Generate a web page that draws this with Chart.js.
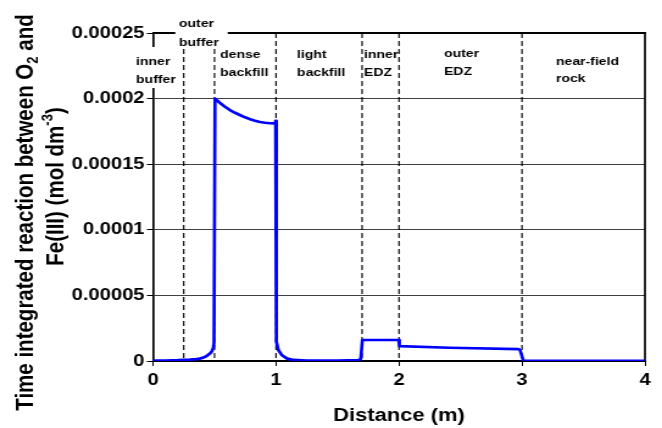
<!DOCTYPE html>
<html>
<head>
<meta charset="utf-8">
<script src="https://cdn.jsdelivr.net/npm/chart.js@4.4.1/dist/chart.umd.min.js"></script>
<style>
html, body { margin: 0; padding: 0; background: #fff; overflow: hidden; }
#wrap { width: 543px; height: 428px; transform: scaleX(1.2192); transform-origin: 0 0; }
canvas { display: block; }
</style>
</head>
<body>
<div id="wrap"><canvas id="c" width="543" height="428"></canvas></div>
<script>
// ---- data ----
const distance = [0, 0.1, 0.2, 0.25, 0.3, 0.35, 0.38, 0.41, 0.436, 0.46, 0.477, 0.49, 0.496,
  0.504, 0.54, 0.585, 0.625, 0.667, 0.71, 0.748, 0.79, 0.829, 0.87, 0.911, 0.95, 0.993, 0.997,
  1.003, 1.019, 1.046, 1.087, 1.14, 1.25, 1.5, 1.67, 1.689, 1.702, 1.85, 1.998,
  2.003, 2.41, 2.97, 2.984, 3.011, 3.5, 4.0];
const reaction = [3e-7, 4e-7, 6e-7, 8e-7, 1.0e-6, 1.4e-6, 1.8e-6, 2.6e-6, 3.8e-6, 5.5e-6, 7.1e-6, 1.0e-5, 1.4e-5,
  2.0e-4, 1.97e-4, 1.938e-4, 1.913e-4, 1.892e-4, 1.873e-4, 1.857e-4, 1.843e-4, 1.831e-4, 1.822e-4, 1.816e-4, 1.812e-4, 1.811e-4, 1.83e-4,
  1.47e-5, 8.4e-6, 4.6e-6, 2.0e-6, 8e-7, 3e-7, 3e-7, 7e-7, 1.5e-6, 1.6e-5, 1.6e-5, 1.6e-5,
  1.14e-5, 1.01e-5, 9.1e-6, 8.4e-6, 2.5e-7, 2e-7, 2e-7];
const yTickValues = [0, 0.00005, 0.0001, 0.00015, 0.0002, 0.00025];
const yTickLabels = ['0', '0.00005', '0.0001', '0.00015', '0.0002', '0.00025'];
const xTickValues = [0, 1, 2, 3, 4];
const xTickLabels = ['0', '1', '2', '3', '4'];
const boundaries = [0.25, 0.5, 1, 1.7, 2, 3];
const regionNames = [['inner', 'buffer'], ['outer', 'buffer'], ['dense', 'backfill'], ['light', 'backfill'],
  ['inner', 'EDZ'], ['outer', 'EDZ'], ['near-field', 'rock']];
const xTitle = 'Distance (m)';
const yTitle1 = [['Time integrated reaction between O', ''], ['2', 'sub'], [' and', '']];
const yTitle2 = [['Fe(III) (mol dm', ''], ['-3', 'sup'], [')', '']];

// ---- layout / style (not data) ----
const FONT = "'Liberation Sans', Arial, sans-serif";
const regionLayout = [
  { x: -0.138, base: [65, 82.7], box: { dx: -1.5, w: 36, top: 47, bottom: 88 } },
  { x: 0.211, base: [27, 45.5], box: { dx: -3, w: 43, top: 10, bottom: 49 } },
  { x: 0.545, base: [57.8, 75.6] },
  { x: 1.171, base: [57.8, 75.6] },
  { x: 1.715, base: [57.8, 75.6] },
  { x: 2.366, base: [57.2, 74.6] },
  { x: 3.276, base: [65, 82] }
];

const decor = {
  id: 'decor',
  beforeDatasetsDraw(chart) {
    const { ctx, chartArea: a, scales: { x } } = chart;
    ctx.save();
    ctx.strokeStyle = '#000';
    ctx.lineWidth = 1.15;
    ctx.setLineDash([5, 3]);
    boundaries.forEach(b => {
      const px = x.getPixelForValue(b);
      ctx.beginPath(); ctx.moveTo(px, a.top); ctx.lineTo(px, a.bottom); ctx.stroke();
    });
    ctx.setLineDash([]);
    ctx.lineWidth = 2;
    ctx.beginPath(); ctx.moveTo(a.left, a.top); ctx.lineTo(a.right + 0.8, a.top); ctx.stroke();
    ctx.lineWidth = 1.7;
    ctx.beginPath(); ctx.moveTo(a.right, a.top - 1); ctx.lineTo(a.right, a.bottom + 1); ctx.stroke();
    ctx.restore();
  },
  afterDatasetsDraw(chart) {
    const { ctx, scales: { x } } = chart;
    ctx.save();
    ctx.font = 'bold 11.5px ' + FONT;
    ctx.textAlign = 'left';
    ctx.textBaseline = 'alphabetic';
    regionNames.forEach((lines, i) => {
      const L = regionLayout[i];
      const px = x.getPixelForValue(L.x);
      if (L.box) {
        ctx.fillStyle = '#fff';
        ctx.fillRect(px + L.box.dx, L.box.top, L.box.w, L.box.bottom - L.box.top);
      }
      ctx.fillStyle = '#000';
      lines.forEach((t, j) => ctx.fillText(t, px, L.base[j]));
    });
    ctx.restore();
  },
  afterDraw(chart) {
    const ctx = chart.ctx;
    const drawRich = (segs, cx, cy, size) => {
      ctx.save();
      ctx.translate(cx, cy);
      ctx.rotate(-Math.PI / 2);
      ctx.fillStyle = '#000';
      ctx.textBaseline = 'alphabetic';
      ctx.textAlign = 'left';
      const small = size * 0.64;
      const fontFor = k => 'bold ' + (k ? small : size) + 'px ' + FONT;
      let total = 0;
      segs.forEach(([t, k]) => { ctx.font = fontFor(k); total += ctx.measureText(t).width; });
      let pos = -total / 2;
      const base = size * 0.716 / 2;
      segs.forEach(([t, k]) => {
        ctx.font = fontFor(k);
        const dy = k === 'sub' ? size * 0.2 : (k === 'sup' ? -size * 0.42 : 0);
        ctx.fillText(t, pos, base + dy);
        pos += ctx.measureText(t).width;
      });
      ctx.restore();
    };
    drawRich(yTitle1, 19.7, 212.5, 20.5);
    drawRich(yTitle2, 44.3, 186.5, 20.5);
  }
};

new Chart(document.getElementById('c'), {
  type: 'line',
  data: {
    datasets: [{
      data: distance.map((d, i) => ({ x: d, y: reaction[i] })),
      borderColor: '#0000ff',
      borderWidth: 2.7,
      pointRadius: 0,
      tension: 0,
      fill: false,
      borderJoinStyle: 'round',
      borderCapStyle: 'round'
    }]
  },
  options: {
    responsive: false,
    animation: false,
    devicePixelRatio: 1,
    layout: { padding: { top: 33, right: 14, left: 0, bottom: 0 } },
    plugins: { legend: { display: false }, tooltip: { enabled: false } },
    scales: {
      x: {
        type: 'linear', min: 0, max: 4,
        afterFit(s) { s.height = 67; },
        afterBuildTicks(s) { s.ticks = xTickValues.map(v => ({ value: v })); },
        ticks: {
          callback: (v, i) => xTickLabels[i],
          color: '#000', padding: 5,
          font: { family: FONT, size: 16.5, weight: 'bold' },
          maxRotation: 0, autoSkip: false
        },
        grid: { drawOnChartArea: false, drawTicks: true, tickLength: 5, tickColor: '#000', tickWidth: 1 },
        border: { display: true, color: '#000', width: 2 },
        title: {
          display: true, text: xTitle, color: '#000',
          font: { family: FONT, size: 18, weight: 'bold' },
          padding: { top: 0, bottom: 1 }
        }
      },
      y: {
        type: 'linear', min: 0, max: 0.00025,
        afterFit(s) { s.width = 125.5; },
        afterBuildTicks(s) { s.ticks = yTickValues.map(v => ({ value: v })); },
        ticks: {
          callback: (v, i) => yTickLabels[i],
          color: '#000', padding: 2,
          font: { family: FONT, size: 16.5, weight: 'bold' },
          autoSkip: false
        },
        grid: { color: '#404040', lineWidth: 1, drawTicks: true, tickLength: 5, tickColor: '#000', tickWidth: 1 },
        border: { display: true, color: '#000', width: 1.7 }
      }
    }
  },
  plugins: [decor]
});
</script>
</body>
</html>
